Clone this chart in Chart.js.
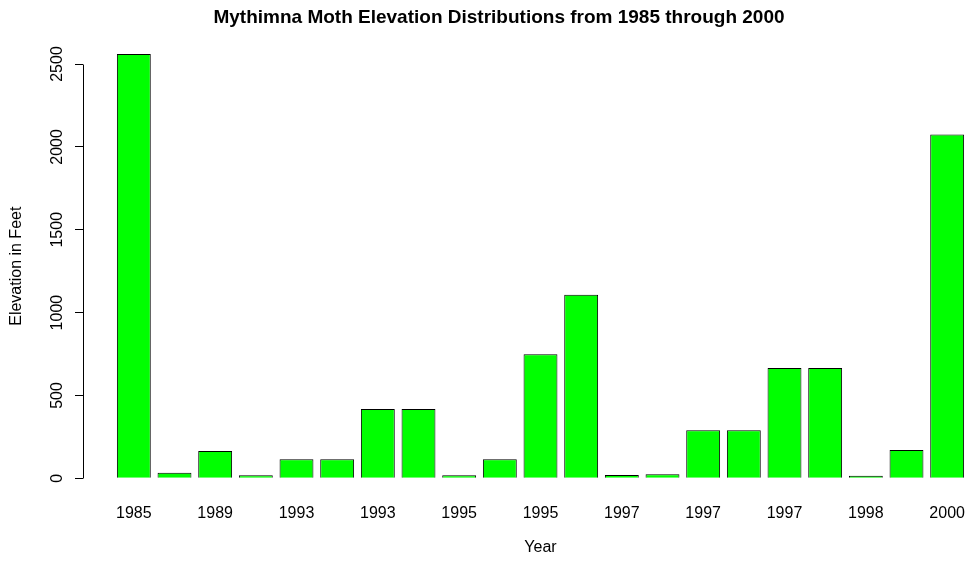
<!DOCTYPE html>
<html>
<head>
<meta charset="utf-8">
<script src="https://cdn.jsdelivr.net/npm/chart.js@4"></script>
<style>
  html, body { margin: 0; padding: 0; background: #fff; overflow: hidden; }
  canvas { display: block; }
</style>
</head>
<body>
<canvas id="graficoElevacao" width="1081" height="563"></canvas>
<script>
// one bar per record, in the order R drew them
var anos = ['1985', '1988', '1989', '1991', '1993', '1993', '1993', '1994', '1995', '1995', '1995',
            '1996', '1997', '1997', '1997', '1997', '1997', '1997', '1998', '1999', '2000'];
var elevacoes = [2560, 34, 165, 18, 115, 115, 418, 418, 18, 115, 748,
                 1108, 20, 24, 290, 290, 665, 665, 16, 171, 2075];
var ticksY = [0, 500, 1000, 1500, 2000, 2500];

// barplot layout: width 1, space 0.2
var LARGURA = 1, ESPACO = 0.2;
function centro(i) { return ESPACO + LARGURA / 2 + i * (LARGURA + ESPACO); }

var pontos = elevacoes.map(function(v, i) { return { x: centro(i), y: v }; });
var fimX = anos.length * (LARGURA + ESPACO);
var folgaX = 0.04 * (fimX - ESPACO);
var topoY = Math.max.apply(null, elevacoes);

var fonte = "'Liberation Sans', Arial, Helvetica, sans-serif";

var eixoY = {
  id: 'eixoY',
  afterDatasetsDraw: function(chart) {
    var y = chart.scales.y, ctx = chart.ctx;
    var x = Math.round(chart.chartArea.left) + 0.5;
    ctx.save();
    ctx.strokeStyle = '#000';
    ctx.lineWidth = 1;
    ctx.beginPath();
    ctx.moveTo(x, Math.round(y.getPixelForValue(ticksY[0])) + 0.5);
    ctx.lineTo(x, Math.round(y.getPixelForValue(ticksY[ticksY.length - 1])) + 0.5);
    ctx.stroke();
    ctx.restore();
  }
};

var grafico = new Chart(document.getElementById('graficoElevacao').getContext('2d'), {
  type: 'bar',
  data: {
    datasets: [{
      label: 'Elevation',
      data: pontos,
      backgroundColor: '#00FF00',
      borderColor: '#000000',
      borderWidth: 1,
      barPercentage: LARGURA / (LARGURA + ESPACO),
      categoryPercentage: 1
    }]
  },
  options: {
    responsive: false,
    animation: false,
    layout: { padding: { left: 0, right: 83, top: 0, bottom: 0 } },
    plugins: {
      legend: { display: false },
      tooltip: { enabled: false },
      title: {
        display: true,
        text: 'Mythimna Moth Elevation Distributions from 1985 through 2000',
        color: '#000',
        font: { family: fonte, size: 19, weight: 'bold', lineHeight: 1.2 },
        padding: { top: 6, bottom: 8.3 }
      }
    },
    scales: {
      x: {
        type: 'linear',
        offset: false,
        min: ESPACO - folgaX,
        max: fimX + folgaX,
        grid: { display: false, offset: false },
        border: { display: false },
        afterBuildTicks: function(scale) {
          scale.ticks = anos.map(function(a, i) { return { value: centro(i) }; })
                            .filter(function(t, i) { return i % 2 === 0; });
        },
        afterFit: function(scale) { scale.height = 67.7; },
        ticks: {
          autoSkip: false,
          maxRotation: 0,
          padding: 1,
          color: '#000',
          font: { family: fonte, size: 16 },
          callback: function(value) {
            return anos[Math.round((value - centro(0)) / (LARGURA + ESPACO))];
          }
        },
        title: {
          display: true,
          text: 'Year',
          color: '#000',
          font: { family: fonte, size: 16, lineHeight: 1.2 },
          padding: { top: 0, bottom: 5.4 }
        }
      },
      y: {
        min: -0.04 * topoY,
        max: 1.04 * topoY,
        grid: { drawOnChartArea: false, drawTicks: true, tickLength: 8, color: '#000', tickColor: '#000' },
        border: { display: false },
        afterBuildTicks: function(scale) {
          scale.ticks = ticksY.map(function(v) { return { value: v }; });
        },
        afterFit: function(scale) { scale.width = 83; },
        ticks: {
          minRotation: 90,
          maxRotation: 90,
          crossAlign: 'center',
          padding: 0,
          color: '#000',
          font: { family: fonte, size: 16 },
          callback: function(value) { return String(value); }
        },
        title: {
          display: true,
          text: 'Elevation in Feet',
          color: '#000',
          font: { family: fonte, size: 16, lineHeight: 1.2 },
          padding: { top: 7.4, bottom: 0 }
        }
      }
    }
  },
  plugins: [eixoY]
});
</script>
</body>
</html>
